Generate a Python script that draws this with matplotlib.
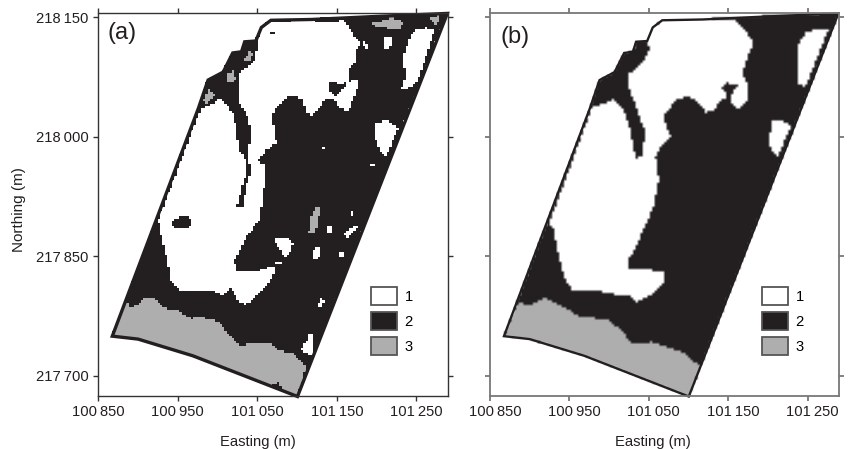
import numpy as np
import matplotlib
matplotlib.use('Agg')
import matplotlib.pyplot as plt
from matplotlib.colors import ListedColormap
from matplotlib.patches import Patch, Polygon
from matplotlib.path import Path
from matplotlib.transforms import ScaledTranslation

plt.rcParams['font.family'] = ['Liberation Sans', 'DejaVu Sans']

# ---- axis data ----
x_ticks = [100850, 100950, 101050, 101150, 101250]
y_ticks = [217700, 217850, 218000, 218150]
x_labels = ['100\u2009850', '100\u2009950', '101\u2009050', '101\u2009150', '101\u2009250']
y_labels = ['217\u2009700', '217\u2009850', '218\u2009000', '218\u2009150']
legend_labels = ['1', '2', '3']
x_range = (100850, 101290)
y_range = (217675, 218154.5)

# ---- site boundary (easting, northing) ----
boundary = [(100867.6, 217749.7), (100900, 217746), (100969, 217725), (101100.4, 217674),
            (101288.8, 218154.6), (101203.8, 218151), (101118, 218147), (101067, 218146),
            (101055, 218137), (101048, 218120), (101034, 218119), (101030, 218106.5),
            (101019, 218105), (101007, 218081), (100988, 218071), (100975.6, 218035)]

# ---- panel (a): class 1 regions ----
a_class1_main = [(100978.6, 218033.3), (100988.2, 218038.3), (101005, 218047.5), (101013.3, 218037.5),
    (101021.7, 218025), (101023.8, 218004), (101028, 217983), (101036.4, 217970.6), (101035, 217949.7),
    (101030, 217933), (101024.6, 217911), (101033, 217911), (101035, 217933), (101042.6, 217958),
    (101038.4, 217975), (101042.6, 218004), (101038.4, 218025), (101028, 218041.7), (101026, 218058),
    (101026, 218079), (101049, 218096), (101050, 218117), (101055, 218135.8), (101067.8, 218144),
    (101118, 218145), (101136.8, 218142.9), (101159.9, 218145), (101168, 218131.6), (101180.8, 218117),
    (101174.5, 218108.6), (101173.7, 218094), (101164, 218081.4), (101164, 218068.8), (101176.6, 218071.8),
    (101175, 218054), (101164, 218031), (101153.6, 218035.4), (101146, 218048), (101136.8, 218047),
    (101120, 218027), (101111.7, 218029), (101107.5, 218048), (101088.7, 218050), (101072, 218033),
    (101069, 218027), (101072, 218004), (101074, 217991.5), (101061.5, 217983), (101051, 217970.6),
    (101059.4, 217964.3), (101061.5, 217958), (101055, 217907.8), (101053, 217895), (101049, 217891),
    (101034, 217870), (101021.7, 217845), (101023.8, 217830), (101053, 217832.5), (101072, 217838.8),
    (101070, 217824), (101049, 217799), (101034, 217788.6), (101026, 217794.9), (101017.5, 217809.5),
    (101007, 217801), (100994.5, 217807.4), (100954.7, 217806), (100942, 217817.9), (100936, 217849),
    (100925.4, 217895)]
a_class1_spots = [
    [(101245.7, 218131.6), (101262.5, 218135.8), (101274, 218134.5), (101250.7, 218066.8), (101239.4, 218059.2),
     (101231, 218057.5), (101237.3, 218077.2), (101233, 218096), (101239.4, 218117)],
    [(101210, 218125), (101218.5, 218125), (101217, 218109), (101210, 218109)],
    [(101183, 218117.8), (101190, 218117), (101190, 218110.7), (101183, 218112)],
    [(101198.8, 218017.4), (101214.3, 218019.9), (101226.9, 218010.3), (101212, 217974.8), (101203.8, 217981), (101198.8, 218000)],
    [(101191, 217967), (101199, 217967), (101199, 217963), (101191, 217963)],
    [(101069.8, 217874.3), (101086.6, 217873.5), (101095, 217868), (101092.9, 217855.5), (101085.7, 217848), (101076, 217861.8)],
    [(101072, 217838.8), (101072, 217843), (101081.6, 217844), (101081.6, 217841.7)],
    [(101157.8, 217876.4), (101172.4, 217889), (101176.6, 217887), (101164, 217874.3)],
    [(101139, 217889), (101143, 217889), (101143, 217878.5), (101139, 217878.5)],
    [(101103.3, 217892), (101108.4, 217892), (101108.4, 217890), (101103.3, 217890)],
    [(101168, 217904.5), (101171, 217904.5), (101171, 217899), (101168, 217899)],
    [(101122.2, 217861.8), (101129.3, 217862.6), (101128.5, 217849.3), (101122.2, 217843), (101120, 217849.3)],
    [(101153.6, 217854), (101157.8, 217854), (101157.8, 217848), (101153.6, 217848)],
    [(101130.5, 217797), (101134.7, 217795.7), (101130.5, 217785.7), (101125.5, 217786.5)],
    [(101116, 217755), (101121, 217753.9), (101120, 217725.9), (101114, 217728), (101103.3, 217732.2), (101111.7, 217742.6)],
    [(101167.5, 217906), (101171, 217906), (101171, 217900), (101167.5, 217900)],
    [(101140, 218000.5), (101142.5, 218000.5), (101142.5, 217998), (101140, 217998)],
    [(101133, 217987.5), (101135.5, 217987.5), (101135.5, 217985), (101133, 217985)],
    [(101120, 218135), (101122.5, 218135), (101122.5, 218132.5), (101120, 218132.5)]]

# ---- panel (a): class 2 islands ----
a_class2_spots = [
    [(100941, 217891), (100952.6, 217900), (100963, 217900), (100968.5, 217893), (100961, 217883.5), (100948.4, 217884.8)],
    [(101141, 218066.8), (101147, 218069.7), (101155.7, 218063.4), (101164, 218068.8), (101159.9, 218060.5), (101149.4, 218050), (101141.9, 218056.3)],
    [(101061.5, 218132.4), (101073, 218132.4), (101072, 218127.4), (101065.6, 218129.5)]]

# ---- panel (a): class 3 regions ----
a_class3_main = [(100885.6, 217794.9), (100892, 217784.4), (100898, 217788.6), (100906.5, 217797), (100921, 217797),
    (100936, 217784.4), (100948.4, 217783), (100967, 217771.9), (100977.7, 217774.8), (101002.8, 217767.7),
    (101015.4, 217751), (101028, 217738.4), (101040.5, 217740.5), (101065.6, 217741.8), (101078, 217731.3),
    (101097, 217728), (101111.7, 217711.2), (101100.4, 217674), (100969, 217725), (100900, 217746), (100867.6, 217749.7)]
a_class3_spots = [
    [(101195.5, 218142.9), (101206, 218144), (101218.5, 218148.3), (101233, 218144), (101231, 218132.8), (101216.4, 218134.5), (101208, 218138.7), (101198.8, 218135.8)],
    [(101267.5, 218148.3), (101281, 218152.5), (101277, 218140), (101271.7, 218142)],
    [(101034, 218096), (101040.5, 218106.5), (101044, 218102), (101040.5, 218094)],
    [(101010.4, 218079.3), (101019.6, 218082.6), (101023, 218073), (101018.8, 218066.8), (101012, 218070)],
    [(100982.8, 218043.7), (100988, 218058.4), (100998.7, 218052), (100992.4, 218046.7), (100986, 218041.7)],
    [(101123.4, 217912), (101130.6, 217912), (101126.4, 217895.3), (101123.4, 217878.5), (101115, 217878.5), (101118, 217897.3)]]
a_class2_in_3 = [(101067.7, 217690.3), (101078, 217692.4), (101081.6, 217682), (101072, 217684)]

# ---- panel (b) ----
b_class1_main = [(100978, 218035.8), (100992.8, 218041), (101005.4, 218047), (101016, 218035.8), (101024, 218017),
    (101028.5, 217996), (101032.7, 217973), (101043, 217975), (101044, 218008.6), (101034.8, 218033.7),
    (101025.6, 218058.8), (101024, 218077.6), (101041, 218092), (101050.8, 218109), (101045, 218121.5),
    (101053.7, 218136), (101066.3, 218144.5), (101116.7, 218145.8), (101158.7, 218145.8), (101169, 218136),
    (101181.8, 218117), (101175.5, 218104.8), (101167, 218079.7), (101175.5, 218060.9), (101173.4, 218046.2),
    (101163, 218033.7), (101152.4, 218042), (101144, 218048.3), (101131.4, 218033.7), (101121, 218030.3),
    (101110.4, 218044), (101100, 218050.4), (101085, 218046), (101070.5, 218029.5), (101070.5, 218017),
    (101076.8, 218000), (101064, 217985.6), (101058, 217975), (101062, 217945.9), (101055.8, 217912.4),
    (101045, 217887.8), (101030.6, 217856), (101024, 217845.8), (101024, 217833), (101051.6, 217833),
    (101070.5, 217829), (101068.4, 217818.5), (101053.7, 217801.7), (101034.8, 217793), (101024, 217801.7),
    (101009.6, 217801.7), (100980, 217808), (100952.9, 217808), (100944.5, 217820.6), (100938, 217843.7),
    (100929.8, 217883.6), (100924.8, 217892)]
b_class1_spots = [
    [(101246.9, 218129.9), (101261.6, 218134.9), (101275, 218133.2), (101246.9, 218062), (101238.5, 218065), (101236.4, 218092), (101238.5, 218117)],
    [(101204.9, 218019), (101215.4, 218021), (101228, 218012.8), (101212, 217974), (101202.8, 217983), (101201.5, 218000)]]
b_class2_spots = [
    [(101141.9, 218060.9), (101148, 218067), (101160.8, 218063.8), (101153, 218052), (101153, 218040),
     (101147.4, 218040), (101148, 218052)]]
b_class3_main = [(100883.6, 217789), (100887.8, 217791), (100900.4, 217789), (100919, 217798.8), (100938, 217789),
    (100963, 217774.4), (100999, 217771), (101011.7, 217759.7), (101030.6, 217740), (101053.7, 217743),
    (101091.5, 217730.3), (101114.6, 217711.4), (101100.4, 217674), (100969, 217725), (100900, 217746), (100867.6, 217749.7)]

COLORS = ['#ffffff', '#231f20', '#aeaeae']
CELL = 3.0
ex = np.arange(x_range[0], x_range[1], CELL)
ny = np.arange(y_range[0], y_range[1], CELL)
EE, NN = np.meshgrid(ex + CELL / 2, ny + CELL / 2)
PTS = np.column_stack([EE.ravel(), NN.ravel()])


def mask(poly):
    return Path(poly + poly[:1]).contains_points(PTS).reshape(EE.shape)


def build(layers):
    grid = np.full(EE.shape, 1, dtype=float)
    for cls, poly in layers:
        grid[mask(poly)] = cls
    grid[~mask(boundary)] = 0
    return grid


layers_a = [(0, a_class1_main)] + [(0, p) for p in a_class1_spots] + [(1, p) for p in a_class2_spots] \
    + [(2, a_class3_main)] + [(2, p) for p in a_class3_spots] + [(1, a_class2_in_3)]
layers_b = [(0, b_class1_main)] + [(0, p) for p in b_class1_spots] + [(1, p) for p in b_class2_spots] \
    + [(2, b_class3_main)]

W, H = 851, 449
fig = plt.figure(figsize=(W / 100, H / 100), dpi=100, facecolor='white')
FS = 10.6


def panel(left, right, layers, tag, spine, spine_lw, outline_lw, interp, tag_x, tag_y, label_x):
    top, bottom = 13.5, 395.7
    ax = fig.add_axes([left / W, (H - bottom) / H, (right - left) / W, (bottom - top) / H])
    ax.imshow(build(layers), origin='lower', extent=(ex[0], ex[-1] + CELL, ny[0], ny[-1] + CELL),
              cmap=ListedColormap(COLORS), vmin=0, vmax=2, interpolation=interp, aspect='auto')
    ax.add_patch(Polygon(boundary, closed=True, fill=False, edgecolor='#231f20', lw=outline_lw,
                         joinstyle='miter', clip_on=False))
    ax.set_xlim(*x_range)
    ax.set_ylim(*y_range)
    ax.set_xticks(x_ticks)
    ax.set_xticklabels(x_labels, fontsize=FS, color='#231f20')
    ax.set_yticks(y_ticks)
    ax.tick_params(direction='out', length=3.8, width=spine_lw, color=spine, top=True, right=True,
                   pad=3.2, labelcolor='#231f20')
    ax.set_xlabel('Easting (m)', fontsize=FS, color='#231f20')
    ax.xaxis.set_label_coords(label_x, -0.102)
    for s in ax.spines.values():
        s.set_edgecolor(spine)
        s.set_linewidth(spine_lw)
    ax.text(tag_x, tag_y, tag, transform=ax.transAxes, fontsize=17, color='#231f20', va='center', ha='left')
    handles = [Patch(facecolor=COLORS[i], edgecolor='#555555', lw=1.3) for i in range(3)]
    ax.legend(handles, legend_labels, loc='lower left', bbox_to_anchor=(0.778, 0.1065), frameon=False,
              fontsize=FS, handlelength=1.8, handleheight=1.53, labelspacing=0.45, handletextpad=0.5,
              borderpad=0, borderaxespad=0)
    return ax


ax_a = panel(98.3, 448.3, layers_a, '(a)', '#333333', 1.0, 2.4, 'nearest', 0.025, 0.949, 0.456)
ax_a.set_yticklabels(y_labels, fontsize=FS)
ax_a.set_ylabel('Northing (m)', fontsize=FS + 0.4, color='#231f20')
ax_a.yaxis.set_label_coords(-0.207, 0.488)

ax_b = panel(490, 839.3, layers_b, '(b)', '#777777', 1.3, 1.7, 'bilinear', 0.03, 0.939, 0.466)
ax_b.set_yticklabels([])

# panel (b) has its easting labels printed slightly right of their ticks
fig.canvas.draw()
off = ScaledTranslation(3.6 / 72, 0, fig.dpi_scale_trans)
for tick in ax_b.xaxis.get_major_ticks():
    tick.label1.set_transform(tick.label1.get_transform() + off)

fig.savefig('out.png', dpi=100, facecolor='white')
